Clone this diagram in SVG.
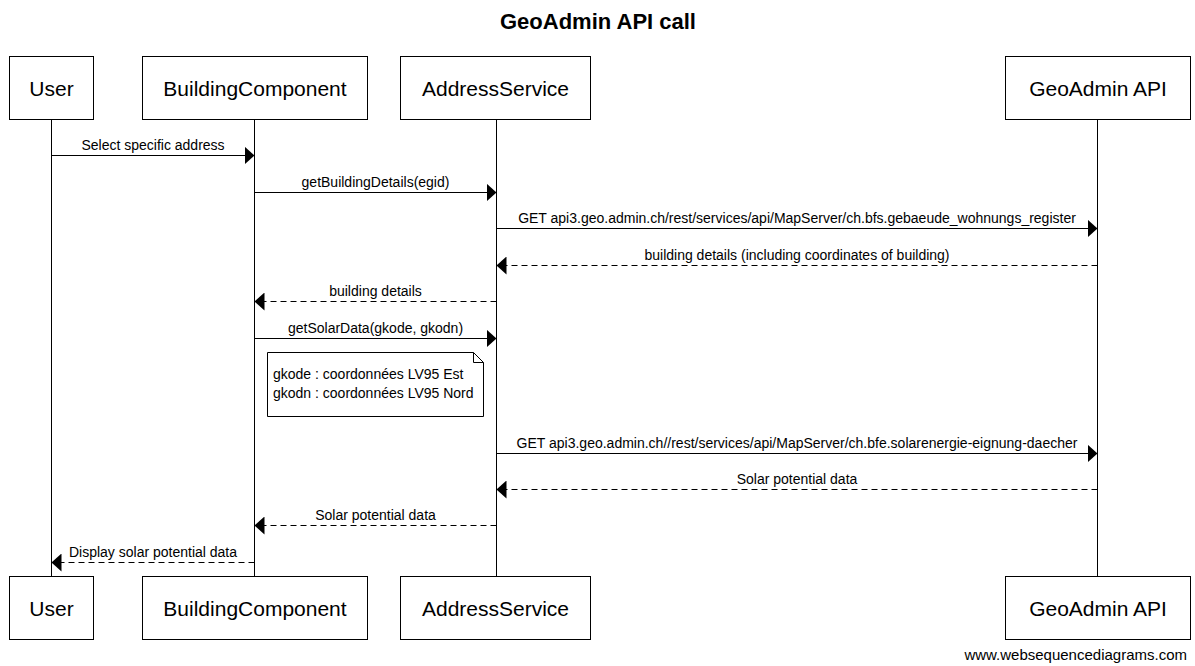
<svg xmlns="http://www.w3.org/2000/svg" width="1195" height="666" viewBox="0 0 1195 666">
<style>
  text { font-family: "Liberation Sans", Arial, sans-serif; fill: #000; }
  .title { font-size: 22px; font-weight: bold; text-anchor: middle; }
  .box { fill: #fff; stroke: #000; stroke-width: 1; }
  .lbl { font-size: 21px; text-anchor: middle; }
  .life { stroke: #000; stroke-width: 1; }
  .msg { stroke: #000; stroke-width: 1; fill: none; marker-end: url(#arr); }
  .ret { stroke-dasharray: 6,4; }
  .mt { font-size: 14px; text-anchor: middle; }
  .note { fill: #fff; stroke: #000; stroke-width: 1; }
  .nt { font-size: 14px; }
  .foot { font-size: 15px; text-anchor: end; }
</style>
<defs>
  <marker id="arr" markerUnits="userSpaceOnUse" markerWidth="10" markerHeight="18" refX="10" refY="9" orient="auto" viewBox="0 0 10 18">
    <path d="M0,0 L10,9 L0,18 Z" fill="#000"/>
  </marker>
</defs>
<rect width="1195" height="666" fill="#fff"/>
<text class="title" x="598" y="29">GeoAdmin API call</text>

<g id="lifelines">
  <line class="life" x1="51.5" y1="119" x2="51.5" y2="577"/>
  <line class="life" x1="254.5" y1="119" x2="254.5" y2="577"/>
  <line class="life" x1="496.5" y1="119" x2="496.5" y2="577"/>
  <line class="life" x1="1097.5" y1="119" x2="1097.5" y2="577"/>
</g>

<g id="User">
  <rect class="box" x="9.5" y="56.5" width="84" height="63"/>
  <text class="lbl" x="51.5" y="96">User</text>
  <rect class="box" x="9.5" y="576.5" width="84" height="63"/>
  <text class="lbl" x="51.5" y="616">User</text>
</g>
<g id="BuildingComponent">
  <rect class="box" x="142.5" y="56.5" width="225" height="63"/>
  <text class="lbl" x="255" y="96">BuildingComponent</text>
  <rect class="box" x="142.5" y="576.5" width="225" height="63"/>
  <text class="lbl" x="255" y="616">BuildingComponent</text>
</g>
<g id="AddressService">
  <rect class="box" x="400.5" y="56.5" width="190" height="63"/>
  <text class="lbl" x="495.5" y="96">AddressService</text>
  <rect class="box" x="400.5" y="576.5" width="190" height="63"/>
  <text class="lbl" x="495.5" y="616">AddressService</text>
</g>
<g id="GeoAdminAPI">
  <rect class="box" x="1005.5" y="56.5" width="185" height="63"/>
  <text class="lbl" x="1098" y="96">GeoAdmin API</text>
  <rect class="box" x="1005.5" y="576.5" width="185" height="63"/>
  <text class="lbl" x="1098" y="616">GeoAdmin API</text>
</g>

<g id="note">
  <path class="note" d="M267.5,352.5 H473.5 L483.5,362.5 V416.5 H267.5 Z"/>
  <path d="M473.5,352.5 V362.5 H483.5" fill="none" stroke="#000" stroke-width="1"/>
  <text class="nt" x="273" y="379">gkode : coordonnées LV95 Est</text>
  <text class="nt" x="273" y="398">gkodn : coordonnées LV95 Nord</text>
</g>

<g id="connectors">
  <line class="msg" x1="51.5" y1="155.5" x2="254.5" y2="155.5"/>
  <text class="mt" x="153" y="149.5">Select specific address</text>

  <line class="msg" x1="254.5" y1="192.5" x2="496.5" y2="192.5"/>
  <text class="mt" x="375.5" y="186.5">getBuildingDetails(egid)</text>

  <line class="msg" x1="496.5" y1="228.5" x2="1097.5" y2="228.5"/>
  <text class="mt" x="797" y="222.5">GET api3.geo.admin.ch/rest/services/api/MapServer/ch.bfs.gebaeude_wohnungs_register</text>

  <line class="msg ret" x1="1097.5" y1="265.5" x2="496.5" y2="265.5"/>
  <text class="mt" x="797" y="259.5">building details (including coordinates of building)</text>

  <line class="msg ret" x1="496.5" y1="301.5" x2="254.5" y2="301.5"/>
  <text class="mt" x="375.5" y="295.5">building details</text>

  <line class="msg" x1="254.5" y1="338.5" x2="496.5" y2="338.5"/>
  <text class="mt" x="375.5" y="332.5">getSolarData(gkode, gkodn)</text>

  <line class="msg" x1="496.5" y1="453.5" x2="1097.5" y2="453.5"/>
  <text class="mt" x="797" y="447.5">GET api3.geo.admin.ch//rest/services/api/MapServer/ch.bfe.solarenergie-eignung-daecher</text>

  <line class="msg ret" x1="1097.5" y1="489.5" x2="496.5" y2="489.5"/>
  <text class="mt" x="797" y="483.5">Solar potential data</text>

  <line class="msg ret" x1="496.5" y1="525.5" x2="254.5" y2="525.5"/>
  <text class="mt" x="375.5" y="519.5">Solar potential data</text>

  <line class="msg ret" x1="254.5" y1="562.5" x2="51.5" y2="562.5"/>
  <text class="mt" x="153" y="556.5">Display solar potential data</text>
</g>

<text class="foot" x="1187" y="660">www.websequencediagrams.com</text>
</svg>
